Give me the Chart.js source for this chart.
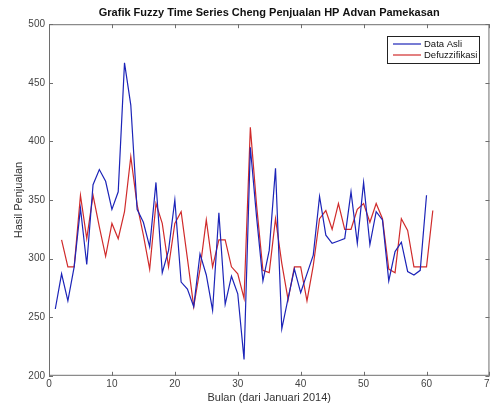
<!DOCTYPE html>
<html>
<head>
<meta charset="utf-8">
<script src="https://cdn.jsdelivr.net/npm/chart.js@4.4.0/dist/chart.umd.min.js"></script>
<style>
  html, body { margin: 0; padding: 0; background: #fff; overflow: hidden; }
  #wrap { width: 497px; height: 407px; }
</style>
</head>
<body>
<div id="wrap"><canvas id="fuzzyChart"></canvas></div>
<script>
// ===== Data =====
const bulanAsli = Array.from({ length: 60 }, (_, i) => i + 1);   // bulan 1..60
const bulanDefuzz = Array.from({ length: 60 }, (_, i) => i + 2); // bulan 2..61

const dataAsli = [
    257, 287, 264, 293, 343, 295, 363, 376, 366, 342,
    357, 467, 431, 342, 331, 310, 365, 288, 307, 350,
    280, 274, 259, 304, 286, 256, 339, 261, 285, 270,
    214, 395, 335, 281, 307, 377, 240, 266, 291, 271,
    287, 303, 353, 320, 313, 315, 317, 357, 313, 365,
    312, 340, 333, 281, 306, 314, 289, 286, 290, 354
];
const dataDefuzz = [
    316, 293, 293, 354, 317, 354, 327, 302, 330, 317,
    340, 387, 346, 320, 291, 347, 330, 293, 330, 340,
    300, 259, 291, 333, 293, 316, 316, 293, 287, 266,
    412, 345, 290, 288, 334, 296, 265, 293, 293, 264,
    294, 334, 341, 325, 347, 325, 325, 342, 347, 331,
    347, 334, 291, 288, 334, 324, 293, 293, 293, 341
];

const xTicks = [0, 10, 20, 30, 40, 50, 60, 70];
const yTicks = [200, 250, 300, 350, 400, 450, 500];

const FONT = '"Liberation Sans", Arial, sans-serif';

// ===== MATLAB-style box, inward ticks and legend =====
const matlabAxes = {
    id: 'matlabAxes',
    afterDraw(chart) {
        const { ctx, chartArea: a, scales } = chart;
        const t = 4;
        ctx.save();
        ctx.strokeStyle = '#6e6e6e';
        ctx.lineWidth = 1;
        ctx.strokeRect(a.left + 0.5, a.top + 0.5, a.right - a.left - 1, a.bottom - a.top - 1);
        ctx.beginPath();
        xTicks.forEach(v => {
            const px = Math.round(scales.x.getPixelForValue(v)) + 0.5;
            ctx.moveTo(px, a.bottom); ctx.lineTo(px, a.bottom - t);
            ctx.moveTo(px, a.top); ctx.lineTo(px, a.top + t);
        });
        yTicks.forEach(v => {
            const py = Math.round(scales.y.getPixelForValue(v)) + 0.5;
            ctx.moveTo(a.left, py); ctx.lineTo(a.left + t, py);
            ctx.moveTo(a.right, py); ctx.lineTo(a.right - t, py);
        });
        ctx.stroke();

        // legend box (top right inside axes)
        const bx = 387, by = 36, bw = 92, bh = 27;
        ctx.fillStyle = '#fff';
        ctx.fillRect(bx, by, bw, bh);
        ctx.strokeStyle = '#222';
        ctx.strokeRect(bx + 0.5, by + 0.5, bw, bh);
        ctx.font = '9.5px ' + FONT;
        ctx.textBaseline = 'middle';
        chart.data.datasets.forEach((ds, i) => {
            const ly = by + 8 + i * 11;
            ctx.strokeStyle = ds.borderColor;
            ctx.lineWidth = 1.2;
            ctx.beginPath();
            ctx.moveTo(bx + 6, ly); ctx.lineTo(bx + 34, ly);
            ctx.stroke();
            ctx.fillStyle = '#111';
            ctx.fillText(ds.label, bx + 37, ly);
        });
        ctx.restore();
    }
};

function initChart() {
    const ctx = document.getElementById('fuzzyChart');

    const data = {
        datasets: [{
            label: 'Data Asli',
            data: bulanAsli.map((b, i) => ({ x: b, y: dataAsli[i] })),
            borderColor: '#1c24b8',
            borderWidth: 1.2,
            pointRadius: 0,
            tension: 0
        }, {
            label: 'Defuzzifikasi',
            data: bulanDefuzz.map((b, i) => ({ x: b, y: dataDefuzz[i] })),
            borderColor: '#d02b2b',
            borderWidth: 1.2,
            pointRadius: 0,
            tension: 0
        }]
    };

    const config = {
        type: 'line',
        data: data,
        options: {
            responsive: true,
            maintainAspectRatio: false,
            animation: false,
            layout: { padding: { left: 0, right: 0, top: 0, bottom: 2 } },
            plugins: {
                legend: { display: false },
                tooltip: { enabled: false },
                title: {
                    display: true,
                    fullSize: false,
                    text: 'Grafik Fuzzy Time Series Cheng Penjualan HP Advan Pamekasan',
                    color: '#111',
                    font: { family: FONT, size: 11, weight: 'bold' },
                    padding: { top: 6, bottom: 5 }
                }
            },
            scales: {
                x: {
                    type: 'linear',
                    min: 0,
                    max: 70,
                    grid: { display: false, drawTicks: false },
                    border: { display: false },
                    afterBuildTicks: s => { s.ticks = xTicks.map(v => ({ value: v })); },
                    ticks: {
                        color: '#444',
                        font: { family: FONT, size: 10 },
                        padding: 2,
                        maxRotation: 0
                    },
                    title: {
                        display: true,
                        text: 'Bulan (dari Januari 2014)',
                        color: '#333',
                        font: { family: FONT, size: 11 },
                        padding: { top: 0, bottom: 0 }
                    }
                },
                y: {
                    min: 200,
                    max: 500,
                    grid: { display: false, drawTicks: false },
                    border: { display: false },
                    afterBuildTicks: s => { s.ticks = yTicks.map(v => ({ value: v })); },
                    afterFit: s => { s.width = 49; },
                    ticks: {
                        color: '#444',
                        font: { family: FONT, size: 10 },
                        padding: 4
                    },
                    title: {
                        display: true,
                        text: 'Hasil Penjualan',
                        color: '#333',
                        font: { family: FONT, size: 11 },
                        padding: { top: 12, bottom: 0 }
                    }
                }
            }
        },
        plugins: [matlabAxes]
    };

    new Chart(ctx, config);
}

document.addEventListener('DOMContentLoaded', initChart);
</script>
</body>
</html>
